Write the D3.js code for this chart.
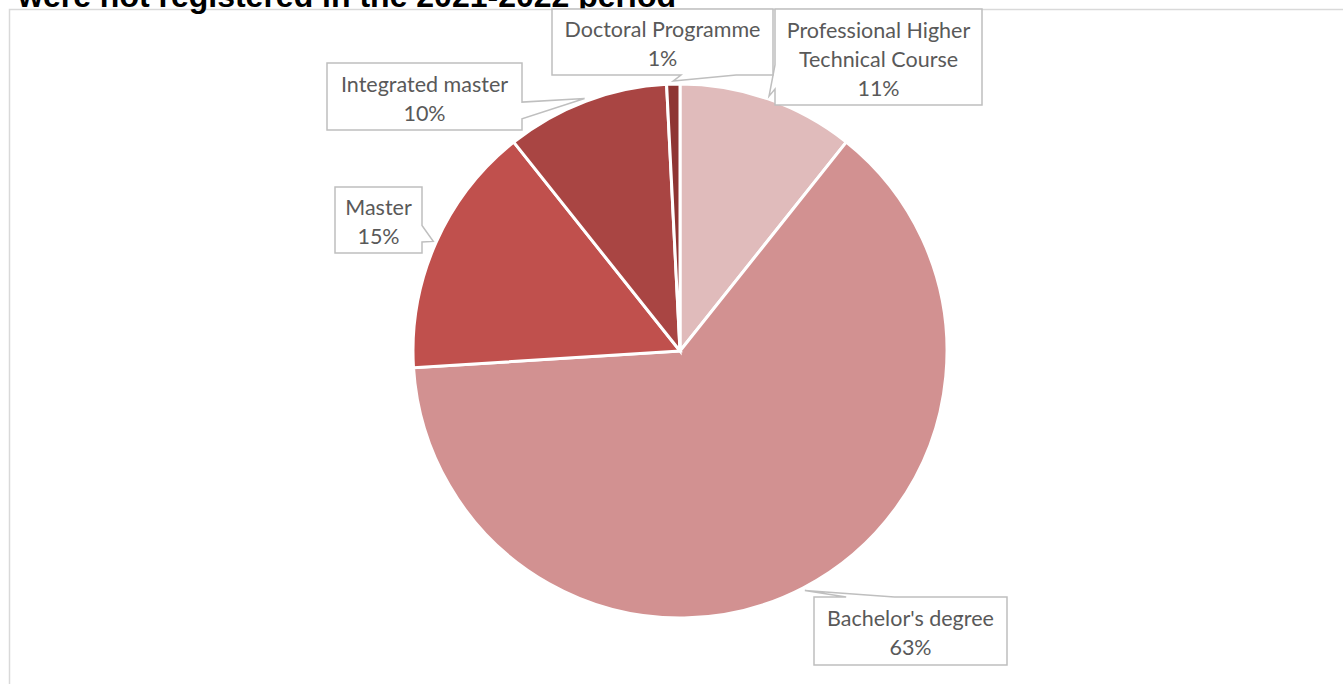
<!DOCTYPE html>
<html lang="en">
<head>
  <meta charset="UTF-8">
  <title>Pie chart - study cycle</title>
  <script src="https://d3js.org/d3.v7.min.js"></script>
  <style>
    body { margin: 0; background: #fff; }
    .title { font-family: "Liberation Sans", Arial, sans-serif; font-weight: bold; font-size: 32px; fill: #000; }
    .lbl { font-family: Lato, "Open Sans", sans-serif; font-size: 21.5px; fill: #595959; }
    .callout { fill: #fff; stroke: #BFBFBF; stroke-width: 1.5px; }
    .slice { stroke: #fff; stroke-width: 3px; }
  </style>
</head>
<body>
  <svg width="1343" height="684"></svg>

  <script>
    // data, clockwise from 12 o'clock
    var categories = ["Professional Higher Technical Course", "Bachelor's degree", "Master", "Integrated master", "Doctoral Programme"];
    var shares = [10.7, 63.3, 15.3, 9.9, 0.8];
    var colors = ["#E0BBBB", "#D29191", "#C0504D", "#A94543", "#8E3533"];
    var titleText = "were not registered in the 2021-2022 period";

    // label boxes placed by hand, like in the original (x, y, w, h)
    var labelBoxes = [
      [775, 9, 207, 96],
      [814, 597, 193, 68],
      [335, 187, 87, 66],
      [327, 63, 195, 67],
      [552, 9, 221, 66]
    ];

    var svg = d3.select("svg"),
        cx = 680, cy = 351, radius = 267;

    // chart area border (only top/left visible in the crop)
    svg.append("rect")
        .attr("x", 9.5).attr("y", 9.5)
        .attr("width", 1500).attr("height", 800)
        .attr("fill", "none").attr("stroke", "#D9D9D9").attr("stroke-width", 1.5);

    svg.append("text")
        .attr("class", "title")
        .attr("x", 18).attr("y", 7)
        .text(titleText);

    var data = categories.map(function(c, i) { return { name: c, value: shares[i], color: colors[i], box: labelBoxes[i] }; });

    var pie = d3.pie().sort(null).value(function(d) { return d.value; });
    var arcs = pie(data);
    var total = d3.sum(shares);

    var arc = d3.arc().innerRadius(0).outerRadius(radius);

    var g = svg.append("g").attr("transform", "translate(" + cx + "," + cy + ")");
    g.selectAll(".slice")
        .data(arcs)
        .enter().append("path")
        .attr("class", "slice")
        .attr("fill", function(d) { return d.data.color; })
        .attr("d", arc);

    // excel style wedgeRectCallout
    function calloutPath(b, tx, ty) {
      var x = b[0], y = b[1], w = b[2], h = b[3];
      var hc = x + w / 2, vc = y + h / 2;
      var dx = tx - hc, dy = ty - vc;
      var dq = dx * h / w;
      var dz = Math.abs(dy) - Math.abs(dq);
      var x1 = x + w * (dx > 0 ? 7 : 2) / 12, x2 = x + w * (dx > 0 ? 10 : 5) / 12;
      var y1 = y + h * (dy > 0 ? 7 : 2) / 12, y2 = y + h * (dy > 0 ? 10 : 5) / 12;
      var inside = tx >= x && tx <= x + w && ty >= y && ty <= y + h;
      var p = [];
      p.push([x, y]);
      if (!inside && dz > 0 && dy < 0) { p.push([x1, y], [tx, ty], [x2, y]); }
      p.push([x + w, y]);
      if (!inside && dz <= 0 && dx > 0) { p.push([x + w, y1], [tx, ty], [x + w, y2]); }
      p.push([x + w, y + h]);
      if (!inside && dz > 0 && dy > 0) { p.push([x2, y + h], [tx, ty], [x1, y + h]); }
      p.push([x, y + h]);
      if (!inside && dz <= 0 && dx < 0) { p.push([x, y2], [tx, ty], [x, y1]); }
      return "M" + p.map(function(q) { return q[0] + "," + q[1]; }).join("L") + "Z";
    }

    var labels = svg.selectAll(".label")
        .data(arcs)
        .enter().append("g")
        .attr("class", "label");

    labels.each(function(d) {
      var b = d.data.box;
      var a = (d.startAngle + d.endAngle) / 2;
      var tx = cx + Math.sin(a) * (radius + 3),
          ty = cy - Math.cos(a) * (radius + 3);
      var sel = d3.select(this);
      sel.append("path").attr("class", "callout").attr("d", calloutPath(b, tx, ty));

      var t = sel.append("text").attr("class", "lbl").attr("text-anchor", "middle");
      // wrap name to box width
      var words = d.data.name.split(" "), lines = [], cur = "";
      var probe = svg.append("text").attr("class", "lbl");
      words.forEach(function(wd) {
        var test = cur ? cur + " " + wd : wd;
        probe.text(test);
        if (probe.node().getComputedTextLength() > b[2] - 12 && cur) { lines.push(cur); cur = wd; }
        else cur = test;
      });
      lines.push(cur);
      probe.remove();
      lines.push(Math.round(d.data.value / total * 100) + "%");

      var lh = 29;
      var y0 = b[1] + b[3] / 2 - (lines.length - 1) * lh / 2 + 2;
      lines.forEach(function(l, i) {
        t.append("tspan")
            .attr("x", b[0] + b[2] / 2)
            .attr("y", y0 + i * lh)
            .attr("dy", "0.35em")
            .text(l);
      });
    });
  </script>
</body>
</html>
